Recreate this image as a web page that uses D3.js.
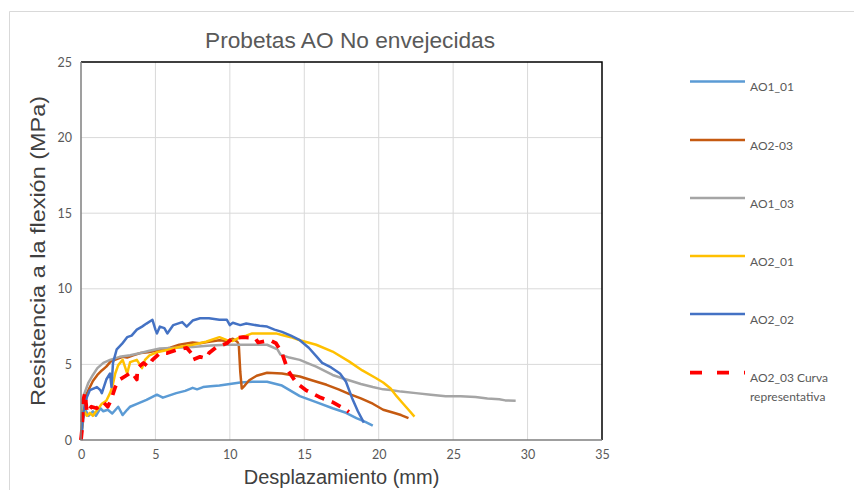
<!DOCTYPE html>
<html><head><meta charset="utf-8">
<script src="https://cdn.jsdelivr.net/npm/d3@7"></script>
<style>body{margin:0;background:#fff}svg{display:block}</style>
</head><body>
<svg id="c" width="854" height="490"></svg>
<script>
const xTicks = [0,5,10,15,20,25,30,35];
const yTicks = [0,5,10,15,20,25];
const seriesNames = ["AO1_01","AO2-03","AO1_03","AO2_01","AO2_02","AO2_03 Curva representativa"];
const seriesColors = ["#5B9BD5","#C55A11","#A5A5A5","#FFC000","#4472C4","#FF0000"];

const ao1_01 = [[0,0],[0.15,1.4],[0.3,2.0],[0.5,1.6],[0.8,1.9],[1.0,1.6],[1.3,2.1],[1.5,1.9],[1.8,2.0],[2.1,1.75],[2.5,2.2],[2.8,1.65],[3.1,2.0],[3.3,2.2],[3.8,2.4],[4.4,2.65],[5.1,3.0],[5.5,2.8],[5.8,2.9],[6.4,3.1],[7.0,3.25],[7.5,3.45],[7.8,3.35],[8.2,3.5],[8.7,3.55],[9.3,3.6],[10.0,3.7],[10.7,3.8],[11.5,3.85],[12.5,3.85],[13.5,3.6],[14.7,2.9],[15.8,2.5],[16.9,2.1],[17.8,1.8],[18.5,1.45],[19.1,1.2],[19.6,0.95]];
const ao2_03 = [[0,0],[0.15,1.8],[0.3,2.9],[0.5,3.3],[0.8,3.9],[1.1,4.3],[1.4,4.6],[1.7,4.85],[2.0,5.2],[2.4,5.35],[2.8,5.5],[3.1,5.45],[3.5,5.6],[4.0,5.75],[4.5,5.8],[5.3,5.95],[6.0,6.1],[6.6,6.3],[7.5,6.45],[8.0,6.4],[8.6,6.5],[9.3,6.6],[9.8,6.55],[10.2,6.7],[10.5,6.5],[10.6,6.3],[10.7,4.5],[10.8,3.4],[11.0,3.6],[11.3,3.95],[11.8,4.25],[12.5,4.45],[13.5,4.4],[14.7,4.2],[15.5,3.95],[16.5,3.65],[17.3,3.35],[18.0,3.05],[18.8,2.75],[19.6,2.4],[20.3,2.0],[21.0,1.8],[21.5,1.65],[22.0,1.45]];
const ao1_03 = [[0,0],[0.1,2.0],[0.2,3.0],[0.5,3.8],[0.8,4.3],[1.1,4.75],[1.5,5.1],[1.95,5.3],[2.6,5.5],[3.3,5.6],[4.0,5.75],[4.6,5.9],[5.3,6.05],[6.4,6.1],[7.5,6.15],[8.7,6.25],[9.8,6.3],[11,6.3],[12.5,6.3],[13.2,6.0],[13.4,5.65],[14.0,5.45],[14.7,5.3],[15.3,5.05],[15.8,4.85],[16.4,4.55],[16.9,4.3],[17.5,4.1],[18,3.95],[18.8,3.7],[19.6,3.5],[20.3,3.35],[20.8,3.3],[21.5,3.2],[22.5,3.1],[23.5,3.0],[24.5,2.9],[25.5,2.9],[26.5,2.85],[27.3,2.75],[28.1,2.7],[28.5,2.62],[29.2,2.6]];
const ao2_01 = [[0,0],[0.15,2.0],[0.4,1.6],[0.6,1.8],[0.8,1.6],[1.1,2.0],[1.4,2.4],[1.7,2.6],[1.95,3.1],[2.1,3.5],[2.3,4.4],[2.5,4.95],[2.8,5.3],[3.1,4.4],[3.3,5.15],[3.75,5.3],[4.1,4.75],[4.3,5.3],[4.6,5.6],[5.1,5.8],[5.8,5.95],[6.6,6.15],[7.5,6.3],[8.4,6.5],[9.3,6.8],[9.8,6.6],[10.2,6.55],[10.7,6.8],[11.1,6.9],[11.5,7.05],[12.3,7.05],[13.1,7.05],[13.5,6.95],[14.1,6.8],[14.7,6.6],[15.8,6.3],[16.9,5.85],[18,5.2],[18.9,4.6],[19.8,4.1],[20.3,3.8],[20.8,3.4],[21.2,2.9],[21.6,2.45],[22.0,2.0],[22.4,1.55]];
const ao2_02 = [[0,0],[0.15,1.8],[0.4,2.85],[0.6,3.3],[1.07,3.5],[1.3,3.3],[1.4,3.1],[1.7,4.0],[1.95,4.4],[2.05,3.5],[2.15,5.1],[2.4,6.0],[2.75,6.35],[3.1,6.8],[3.4,6.9],[3.75,7.3],[4.1,7.5],[4.4,7.7],[4.8,7.95],[5.0,7.3],[5.1,7.05],[5.3,7.5],[5.6,7.4],[5.8,7.05],[6.2,7.6],[6.8,7.8],[7.1,7.5],[7.5,7.9],[8.0,8.05],[8.6,8.05],[9.3,7.95],[9.8,7.95],[10.0,7.6],[10.2,7.75],[10.7,7.6],[11.1,7.7],[12.0,7.55],[12.5,7.5],[13.0,7.3],[13.5,7.15],[14.1,6.9],[14.7,6.6],[15.3,6.1],[15.8,5.55],[16.2,5.1],[16.8,4.8],[17.4,4.4],[17.8,3.85],[18.2,2.8],[18.6,1.9],[19.0,1.15]];
const ao2_03rep = [[0,0],[0.07,0.7],[0.15,2.65],[0.27,3.1],[0.4,1.8],[0.7,2.2],[1.05,2.1],[1.5,2.5],[1.8,2.2],[2.0,2.6],[2.3,3.5],[2.6,4.0],[3.1,4.3],[3.4,4.5],[3.75,4.0],[3.8,4.75],[4.2,5.1],[4.5,4.85],[4.8,5.3],[5.3,5.75],[5.8,5.75],[6.4,5.95],[7.1,6.1],[7.4,5.75],[7.5,5.3],[8.0,5.5],[8.4,5.4],[8.6,5.75],[9.1,6.15],[9.8,6.4],[10.2,6.75],[10.9,6.8],[11.7,6.75],[11.9,6.45],[12.7,6.6],[13.1,6.4],[13.5,5.75],[13.9,4.6],[14.5,3.75],[15.1,3.3],[16.0,2.85],[16.9,2.5],[17.8,2.0],[18.0,1.85]];

const seriesData = [ao1_01, ao2_03, ao1_03, ao2_01, ao2_02, ao2_03rep];

const svg = d3.select("#c");
const L = 81, R = 602, T = 62, B = 440;
const x = d3.scaleLinear().domain([0,35]).range([L,R]);
const y = d3.scaleLinear().domain([0,25]).range([B,T]);

// outer chart border
svg.append("path").attr("d","M9.5,490 V11.5 H854").attr("fill","none").attr("stroke","#d9d9d9").attr("stroke-width",1);

// gridlines
svg.append("g").selectAll("line").data(xTicks.filter(d=>d>0&&d<35)).join("line")
  .attr("x1",d=>x(d)).attr("x2",d=>x(d)).attr("y1",T).attr("y2",B)
  .attr("stroke","#d9d9d9").attr("stroke-width",1);
svg.append("g").selectAll("line").data(yTicks.filter(d=>d>0&&d<25)).join("line")
  .attr("x1",L).attr("x2",R).attr("y1",d=>y(d)).attr("y2",d=>y(d))
  .attr("stroke","#d9d9d9").attr("stroke-width",1);

// series
const line = d3.line().x(d=>x(d[0])).y(d=>y(d[1]));
seriesData.forEach((s,i)=>{
  const p = svg.append("path").datum(s).attr("d",line).attr("fill","none")
    .attr("stroke",seriesColors[i]).attr("stroke-linejoin","round");
  if(i===5){ p.attr("stroke-width",3.75).attr("stroke-dasharray","10,8"); }
  else p.attr("stroke-width",2.5);
});

// frame
svg.append("path").attr("d",`M${L},${T} H${R} V${B}`).attr("fill","none").attr("stroke","#000").attr("stroke-width",1.5);
svg.append("path").attr("d",`M${L},${T} V${B} H${R}`).attr("fill","none").attr("stroke","#808080").attr("stroke-width",1.5);

// axes (labels only)
const xAxis = d3.axisBottom(x).tickValues(xTicks).tickSize(0).tickPadding(10).tickFormat(d3.format("d"));
const gx = svg.append("g").attr("transform",`translate(0,${B})`).call(xAxis);
const yAxis = d3.axisLeft(y).tickValues(yTicks).tickSize(0).tickPadding(9).tickFormat(d3.format("d"));
const gy = svg.append("g").attr("transform",`translate(${L},0)`).call(yAxis);
[gx,gy].forEach(g=>{
  g.select(".domain").remove();
  g.selectAll("text").attr("font-family","Lato, 'Open Sans', sans-serif").attr("font-size",12.5).attr("fill","#595959");
});

// title and axis titles
svg.append("text").attr("x",350).attr("y",48).attr("text-anchor","middle")
  .attr("font-family","'Liberation Sans', Arial, sans-serif").attr("font-size",22).attr("fill","#595959")
  .attr("textLength",290).attr("lengthAdjust","spacingAndGlyphs")
  .text("Probetas AO No envejecidas");
svg.append("text").attr("x",341.5).attr("y",484).attr("text-anchor","middle")
  .attr("font-family","'Liberation Sans', Arial, sans-serif").attr("font-size",20).attr("fill","#404040")
  .text("Desplazamiento (mm)");
svg.append("text").attr("transform","translate(45,251) rotate(-90)").attr("text-anchor","middle")
  .attr("font-family","'Liberation Sans', Arial, sans-serif").attr("font-size",21).attr("fill","#404040")
  .attr("textLength",310).attr("lengthAdjust","spacingAndGlyphs")
  .text("Resistencia a la flexión (MPa)");

// legend
const legY = [81.5,140,198,256,314,372.5];
const lg = svg.append("g");
seriesNames.forEach((n,i)=>{
  const ln = lg.append("line").attr("x1",690).attr("x2",745).attr("y1",legY[i]).attr("y2",legY[i])
    .attr("stroke",seriesColors[i]);
  if(i===5) ln.attr("stroke-width",3.75).attr("stroke-dasharray","12,15");
  else ln.attr("stroke-width",2.5);
  const t = lg.append("text").attr("x",750).attr("y",legY[i]+9.5)
    .attr("font-family","Lato, 'Open Sans', sans-serif").attr("font-size",12).attr("fill","#595959");
  if(i===5){
    t.append("tspan").attr("x",750).text("AO2_03 Curva");
    t.append("tspan").attr("x",750).attr("dy",19).text("representativa");
  } else t.text(n);
});
</script>
</body></html>
